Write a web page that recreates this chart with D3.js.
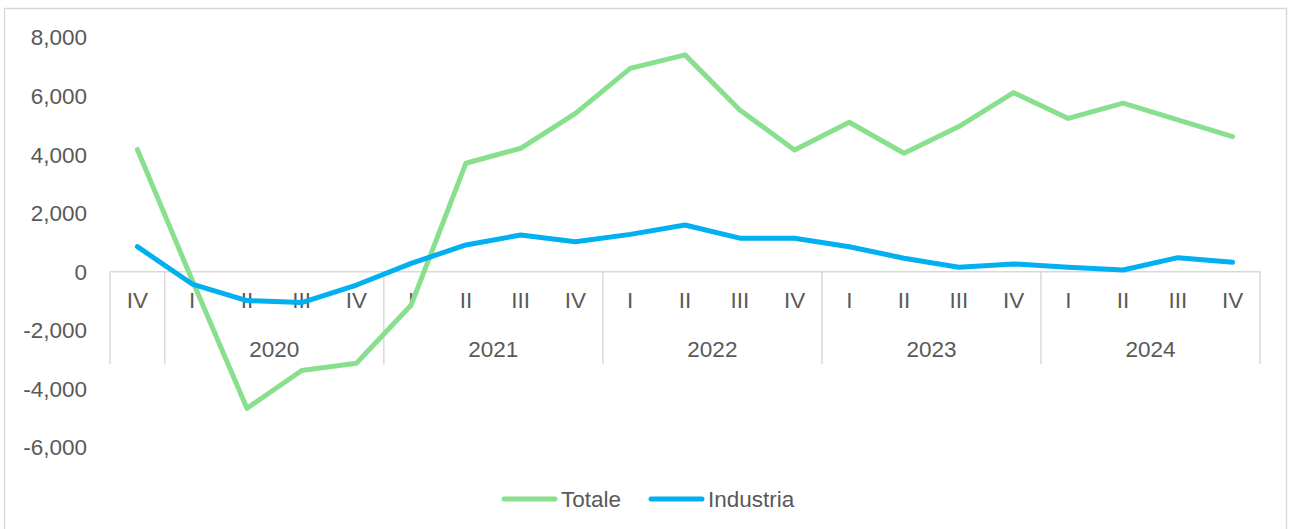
<!DOCTYPE html>
<html>
<head>
<meta charset="utf-8">
<script src="https://cdn.jsdelivr.net/npm/d3@7"></script>
<style>
  html, body { margin: 0; padding: 0; background: #fff; }
  svg { display: block; }
  text { font-family: "Liberation Sans", Arial, sans-serif; fill: #595959; }
</style>
</head>
<body>
<svg id="chart" width="1290" height="529"></svg>
<script>
// Quarterly categories: 2019 Q4, then 2020–2024
const quarters = ["IV","I","II","III","IV","I","II","III","IV","I","II","III","IV","I","II","III","IV","I","II","III","IV"];
const years = ["", "2020", "2021", "2022", "2023", "2024"];
const yearSpans = [1, 4, 4, 4, 4, 4];

const totale = [4160, -300, -4680, -3390, -3140, -1150, 3690, 4200, 5390, 6930, 7390, 5510, 4140, 5090, 4030, 4940, 6100, 5220, 5740, 5170, 4600];
const industria = [840, -435, -1000, -1070, -470, 270, 900, 1240, 1010, 1260, 1580, 1130, 1130, 840, 445, 135, 250, 135, 45, 465, 305];

const yTicks = [-6000, -4000, -2000, 0, 2000, 4000, 6000, 8000];
const seriesNames = ["Totale", "Industria"];
const seriesColors = ["#88E08F", "#00B0F0"];

const svg = d3.select("#chart");
const gridColor = "#d9d9d9";
const axisFont = 22.5;

// Outer chart frame
svg.append("rect")
  .attr("x", 4.5).attr("y", 8.5)
  .attr("width", 1282).attr("height", 540)
  .attr("fill", "none").attr("stroke", gridColor).attr("stroke-width", 1.5);

const x = d3.scaleBand().domain(d3.range(quarters.length)).range([110, 1260]).padding(0);
const y = d3.scaleLinear().domain([-6000, 8000]).range([447, 37]);

// Y axis labels (no axis line), plain hyphen for negatives
const fmt = d3.format(",");
const yAxis = d3.axisLeft(y).tickValues(yTicks).tickSize(0).tickPadding(0)
  .tickFormat(d => fmt(d).replace("\u2212", "-"));
const gy = svg.append("g").attr("transform", "translate(87,0)").call(yAxis);
gy.select(".domain").remove();
gy.selectAll("text")
  .attr("font-size", axisFont)
  .attr("font-family", "Liberation Sans, Arial, sans-serif")
  .attr("fill", "#595959")
  .attr("dy", "0.35em");

// Category axis along zero
const y0 = y(0);
const gx = svg.append("g").attr("transform", `translate(0,${y0})`)
  .call(d3.axisBottom(x).tickSize(0).tickPadding(0).tickFormat(i => quarters[i]));
gx.select(".domain").attr("stroke", gridColor).attr("stroke-width", 1.5);
gx.selectAll("text")
  .attr("font-size", axisFont)
  .attr("font-family", "Liberation Sans, Arial, sans-serif")
  .attr("fill", "#595959")
  .attr("y", 37)
  .attr("dy", 0);

// Year groups with separator lines
let start = 0;
const bounds = [0];
yearSpans.forEach(s => { start += s; bounds.push(start); });
const step = x.step();
svg.append("g").selectAll("line").data(bounds).join("line")
  .attr("x1", i => x.range()[0] + i * step)
  .attr("x2", i => x.range()[0] + i * step)
  .attr("y1", y0).attr("y2", y0 + 93)
  .attr("stroke", gridColor).attr("stroke-width", 1.5);

svg.append("g").selectAll("text").data(years).join("text")
  .attr("x", (d, i) => x.range()[0] + (bounds[i] + bounds[i + 1]) / 2 * step)
  .attr("y", y0 + 86)
  .attr("text-anchor", "middle")
  .attr("font-size", axisFont)
  .text(d => d);

// Series lines
const line = d3.line()
  .x((d, i) => x(i) + x.bandwidth() / 2)
  .y(d => y(d));

[totale, industria].forEach((vals, k) => {
  svg.append("path")
    .datum(vals)
    .attr("d", line)
    .attr("fill", "none")
    .attr("stroke", seriesColors[k])
    .attr("stroke-width", 5)
    .attr("stroke-linecap", "round")
    .attr("stroke-linejoin", "round");
});

// Legend
const legendItems = [
  { name: seriesNames[0], color: seriesColors[0], x0: 502 },
  { name: seriesNames[1], color: seriesColors[1], x0: 649 }
];
const lg = svg.append("g");
legendItems.forEach(it => {
  lg.append("line")
    .attr("x1", it.x0 + 2).attr("x2", it.x0 + 53)
    .attr("y1", 499).attr("y2", 499)
    .attr("stroke", it.color).attr("stroke-width", 5)
    .attr("stroke-linecap", "round");
  lg.append("text")
    .attr("x", it.x0 + 59).attr("y", 507)
    .attr("font-size", 22.5)
    .text(it.name);
});
</script>
</body>
</html>
